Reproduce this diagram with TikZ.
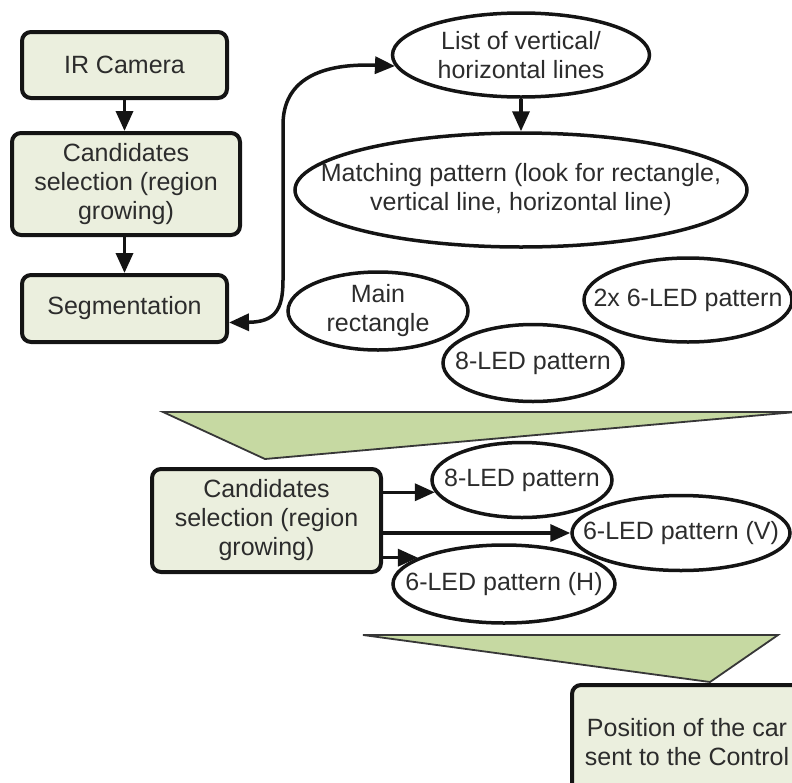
\documentclass[tikz,border=0pt]{standalone}
\usepackage{fontspec}
\setmainfont{Liberation Sans}
\usetikzlibrary{arrows.meta,shapes.geometric}
\definecolor{boxfill}{HTML}{EBEFDE}
\definecolor{funnel}{HTML}{C6D9A2}
\definecolor{ink}{HTML}{141414}
\begin{document}
\begin{tikzpicture}[x=1pt,y=-1pt,
  every node/.style={font=\fontsize{25}{29}\selectfont, text=ink!90},
  proc/.style={draw=ink, line width=4pt, rounded corners=9pt, fill=boxfill, align=center, inner sep=0pt},
  oval/.style={draw=ink, line width=3.5pt, ellipse, inner sep=0pt},
  arr/.style={draw=ink, line width=3.5pt, -{Triangle[length=20pt,width=17pt]}},
  dbl/.style={draw=ink, line width=3.5pt, {Triangle[length=20pt,width=17pt]}-{Triangle[length=20pt,width=17pt]}},
  funnelshape/.style={fill=funnel, draw=ink!85, line width=1.8pt, line join=miter}]
\useasboundingbox (0,0) rectangle (792,782);
\clip (0,0) rectangle (792,782);

% left column
\node[proc, minimum width=205pt, minimum height=66pt] (ir) at (124.5,65) {IR Camera};
\node[proc, minimum width=228pt, minimum height=102pt] (c1) at (126,184) {Candidates\\selection (region\\growing)};
\node[proc, minimum width=205pt, minimum height=67pt] (seg) at (124.5,308.5) {Segmentation};

\draw[arr] (ir.south) -- (ir.south |- c1.north);
\draw[arr] (ir.south |- c1.south) -- (ir.south |- seg.north);

% upper ellipses
\node[oval, minimum width=257pt, minimum height=84pt,
      label={[align=center]center:List of vertical/\\horizontal lines}] (list) at (521,55) {};
\node[oval, minimum width=452pt, minimum height=114pt,
      label={[align=center]center:Matching pattern (look for rectangle,\\vertical line, horizontal line)}] (match) at (521,190) {};
\node[oval, minimum width=180pt, minimum height=78pt,
      label={[align=center]center:Main\\rectangle}] (mainr) at (378,311) {};
\node[oval, minimum width=208pt, minimum height=84pt,
      label={center:2x 6-LED pattern}] (six2) at (688,300) {};
\node[oval, minimum width=180pt, minimum height=77pt,
      label={center:8-LED pattern}] (led8a) at (533,363) {};

\draw[arr] (list.south) -- (match.north);
\draw[dbl] ([yshift=-14pt]seg.east) .. controls (275,322) and (283,310) .. (283,280)
   -- (283,125) .. controls (283,80) and (320,63) .. (list.185);

% first funnel
\draw[funnelshape] (163,412) -- (796,412) -- (265,459) -- cycle;

% lower part
\node[proc, minimum width=229pt, minimum height=103pt] (c2) at (266.5,520.5) {Candidates\\selection (region\\growing)};
\node[oval, minimum width=180pt, minimum height=75pt,
      label={center:8-LED pattern}] (led8b) at (522,480) {};
\node[oval, minimum width=218pt, minimum height=75pt,
      label={center:6-LED pattern (V)}] (led6v) at (681,533) {};
\node[oval, minimum width=222pt, minimum height=78pt,
      label={center:6-LED pattern (H)}] (led6h) at (504,584) {};

\draw[arr] (c2.east |- led8b.188) -- (led8b.188);
\draw[arr] (c2.east |- led6v.west) -- (led6v.west);
\draw[arr] (c2.east |- led6h.163) -- (led6h.163);

% second funnel
\draw[funnelshape] (363,635) -- (778,635) -- (710,682) -- cycle;

\node[proc, minimum width=230pt, minimum height=114pt] (pos) at (687,742) {Position of the car\\sent to the Control};
\end{tikzpicture}
\end{document}
